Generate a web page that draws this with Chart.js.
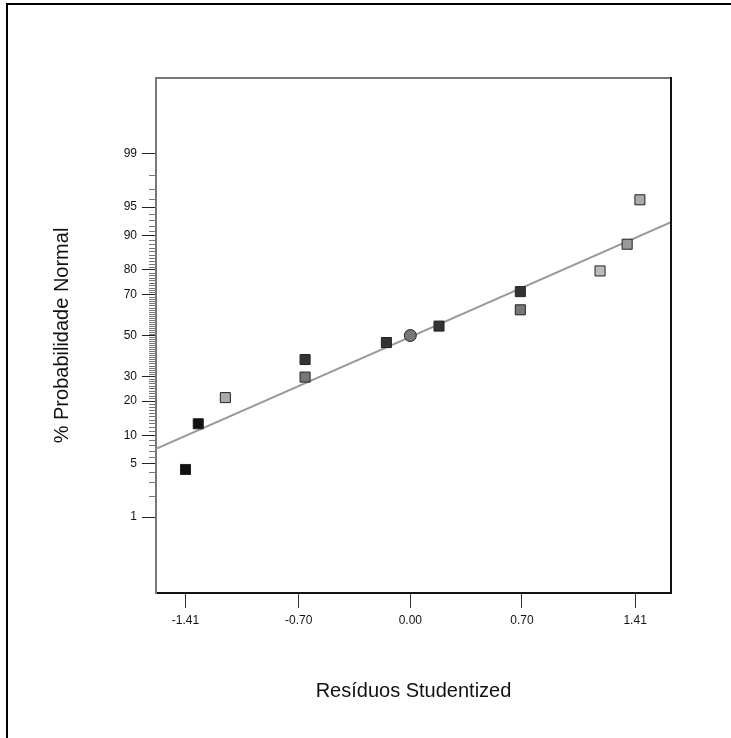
<!DOCTYPE html>
<html>
<head>
<meta charset="utf-8">
<script src="https://cdn.jsdelivr.net/npm/chart.js@4.4.1/dist/chart.umd.min.js"></script>
<style>
    html, body { margin: 0; padding: 0; background: #fff; }
    canvas { display: block; }
</style>
</head>
<body>
<canvas id="chart" width="731" height="738"></canvas>
<script>
// studentized residuals and their normal probability (%)
const residuals = [-1.41, -1.33, -1.16, -0.66, -0.66, -0.15, 0.00, 0.18, 0.69, 0.69, 1.19, 1.36, 1.44];
const probability = [4.3, 12.9, 21.3, 37.9, 29.7, 46.4, 50.0, 54.8, 71.3, 62.9, 79.6, 87.9, 95.9];
const pointShade = ['#111', '#111', '#aaa', '#333', '#777', '#333', '#777', '#333', '#333', '#777', '#bbb', '#999', '#aaa'];
const pointShape = ['rect', 'rect', 'rect', 'rect', 'rect', 'rect', 'circle', 'rect', 'rect', 'rect', 'rect', 'rect', 'rect'];

// reference line end points
const fitX = [-1.595, 1.635];
const fitP = [7.3, 92.7];

const xTicks = [-1.41, -0.70, 0.00, 0.70, 1.41];
const xTickLabels = ['-1.41', '-0.70', '0.00', '0.70', '1.41'];
const yTicks = [1, 5, 10, 20, 30, 50, 70, 80, 90, 95, 99];
const yMinorTicks = [];
for (let p = 1; p <= 99; p++) {
    if (!yTicks.includes(p)) yMinorTicks.push(p);
}

// inverse normal cdf (Acklam)
function probit(p) {
    const a = [-3.969683028665376e+01, 2.209460984245205e+02, -2.759285104469687e+02, 1.383577518672690e+02, -3.066479806614716e+01, 2.506628277459239e+00];
    const b = [-5.447609879822406e+01, 1.615858368580409e+02, -1.556989798598866e+02, 6.680131188771972e+01, -1.328068155288572e+01];
    const c = [-7.784894002430293e-03, -3.223964580411365e-01, -2.400758277161838e+00, -2.549732539343734e+00, 4.374664141464968e+00, 2.938163982698783e+00];
    const d = [7.784695709041462e-03, 3.224671290700398e-01, 2.445134137142996e+00, 3.754408661907416e+00];
    const pl = 0.02425;
    let q, r;
    if (p < pl) {
        q = Math.sqrt(-2 * Math.log(p));
        return (((((c[0]*q+c[1])*q+c[2])*q+c[3])*q+c[4])*q+c[5]) / ((((d[0]*q+d[1])*q+d[2])*q+d[3])*q+1);
    }
    if (p <= 1 - pl) {
        q = p - 0.5;
        r = q * q;
        return (((((a[0]*r+a[1])*r+a[2])*r+a[3])*r+a[4])*r+a[5])*q / (((((b[0]*r+b[1])*r+b[2])*r+b[3])*r+b[4])*r+1);
    }
    q = Math.sqrt(-2 * Math.log(1 - p));
    return -(((((c[0]*q+c[1])*q+c[2])*q+c[3])*q+c[4])*q+c[5]) / ((((d[0]*q+d[1])*q+d[2])*q+d[3])*q+1);
}

const FONT = '"Liberation Sans", Arial, Helvetica, sans-serif';

const framePlugin = {
    id: 'frame',
    afterDraw(chart) {
        const ctx = chart.ctx;
        const {left, right, top, bottom} = chart.chartArea;
        const yScale = chart.scales.y;
        ctx.save();
        // minor probability ticks
        ctx.strokeStyle = '#777';
        ctx.lineWidth = 1;
        yMinorTicks.forEach(p => {
            const y = Math.round(yScale.getPixelForValue(probit(p / 100))) + 0.5;
            ctx.beginPath();
            ctx.moveTo(left - 7, y);
            ctx.lineTo(left, y);
            ctx.stroke();
        });
        // top and right edges of the plot box
        ctx.lineWidth = 2;
        ctx.strokeStyle = '#777';
        ctx.beginPath();
        ctx.moveTo(left - 1, top);
        ctx.lineTo(right, top);
        ctx.stroke();
        ctx.strokeStyle = '#111';
        ctx.beginPath();
        ctx.moveTo(right, top - 1);
        ctx.lineTo(right, bottom + 1);
        ctx.stroke();
        // outer frame
        ctx.strokeStyle = '#000';
        ctx.lineWidth = 2;
        ctx.beginPath();
        ctx.moveTo(7, 738);
        ctx.lineTo(7, 4);
        ctx.lineTo(731, 4);
        ctx.stroke();
        ctx.restore();
    }
};

new Chart(document.getElementById('chart'), {
    type: 'scatter',
    data: {
        datasets: [
            {
                type: 'line',
                data: fitX.map((x, i) => ({x: x, y: probit(fitP[i] / 100)})),
                borderColor: '#999',
                borderWidth: 2,
                pointRadius: 0,
                fill: false,
                order: 2
            },
            {
                data: residuals.map((x, i) => ({x: x, y: probit(probability[i] / 100)})),
                pointStyle: pointShape,
                pointRadius: pointShape.map(s => s === 'circle' ? 6 : 7.1),
                backgroundColor: pointShade,
                borderColor: '#222',
                borderWidth: 1,
                order: 1
            }
        ]
    },
    options: {
        responsive: false,
        animation: false,
        devicePixelRatio: 1,
        layout: {
            padding: { left: 0, top: 78, right: 60, bottom: 0 }
        },
        plugins: {
            legend: { display: false },
            tooltip: { enabled: false }
        },
        scales: {
            x: {
                type: 'linear',
                min: -1.595,
                max: 1.635,
                afterFit: scale => { scale.height = 145; },
                afterBuildTicks: scale => { scale.ticks = xTicks.map(v => ({value: v})); },
                border: { color: '#111', width: 2 },
                grid: { drawOnChartArea: false, tickLength: 15, tickColor: '#333', tickWidth: 1 },
                ticks: {
                    autoSkip: false,
                    maxRotation: 0,
                    padding: 5,
                    color: '#111',
                    font: { family: FONT, size: 12 },
                    callback: (v, i) => xTickLabels[i]
                },
                title: {
                    display: true,
                    text: 'Resíduos Studentized',
                    color: '#111',
                    font: { family: FONT, size: 20 },
                    padding: 35
                }
            },
            y: {
                type: 'linear',
                min: -3.3,
                max: 3.3,
                afterFit: scale => { scale.width = 156; },
                afterBuildTicks: scale => { scale.ticks = yTicks.map(p => ({value: probit(p / 100)})); },
                border: { color: '#777', width: 2 },
                grid: { drawOnChartArea: false, tickLength: 14, tickColor: '#222', tickWidth: 1 },
                ticks: {
                    autoSkip: false,
                    padding: 5,
                    color: '#111',
                    font: { family: FONT, size: 12 },
                    callback: (v, i) => String(yTicks[i])
                },
                title: {
                    display: true,
                    text: '% Probabilidade Normal',
                    color: '#111',
                    font: { family: FONT, size: 20 },
                    padding: 50
                }
            }
        }
    },
    plugins: [framePlugin]
});
</script>
</body>
</html>
